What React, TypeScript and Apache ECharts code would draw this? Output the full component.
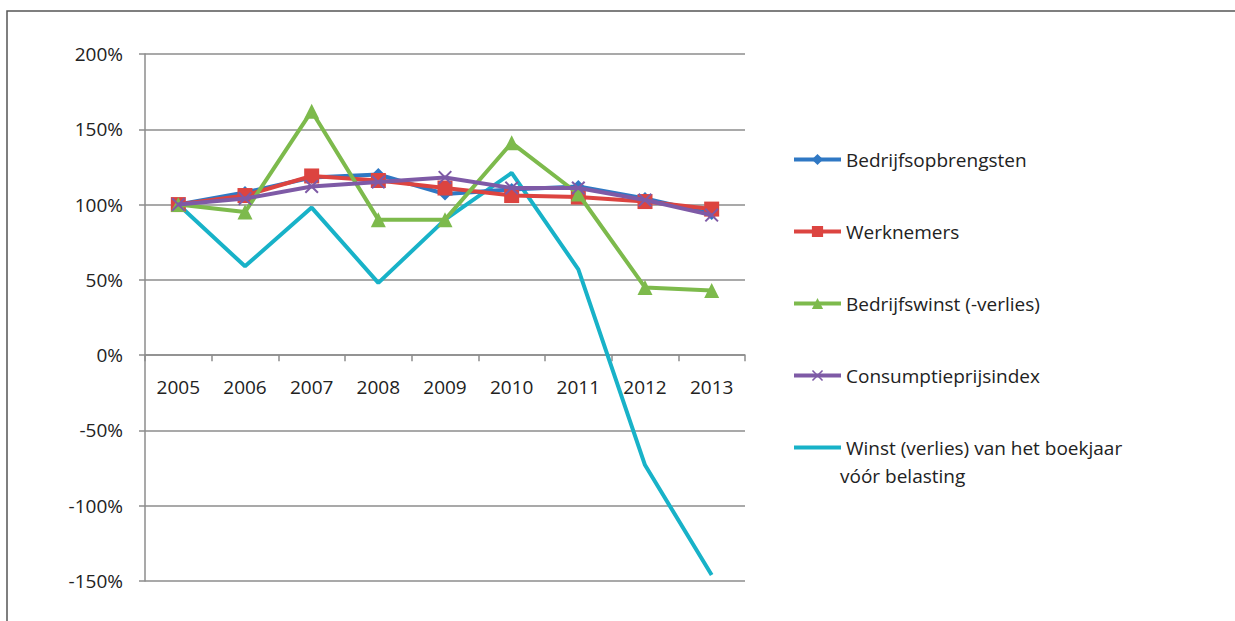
import React, { useEffect, useRef } from "react";
import * as echarts from "echarts";

const years = ["2005", "2006", "2007", "2008", "2009", "2010", "2011", "2012", "2013"];
const bedrijfsopbrengsten = [100, 108, 118, 120, 107, 110, 112, 104, 94];
const werknemers = [100, 106, 119, 116, 111, 106, 105, 102, 97];
const bedrijfswinst = [100, 95, 162, 90, 90, 141, 107, 45, 43];
const consumptieprijsindex = [100, 104, 112, 115, 118, 111, 111, 103, 93];
const winstVoorBelasting = [100, 59, 98, 48, 90, 121, 57, -73, -146];

const names = [
  "Bedrijfsopbrengsten",
  "Werknemers",
  "Bedrijfswinst (-verlies)",
  "Consumptieprijsindex",
  "Winst (verlies) van het boekjaar vóór belasting",
];
const colors = ["#2F78C4", "#DC4440", "#7DBA4C", "#7E5AA6", "#18B2C8"];
const FONT = "Open Sans";

const crossPath =
  "path://M0,1L1,0L5,4L9,0L10,1L6,5L10,9L9,10L5,6L1,10L0,9L4,5Z";

export default function App() {
  const ref = useRef<HTMLDivElement>(null);
  useEffect(() => {
    if (!ref.current) return;
    const chart = echarts.init(ref.current, null, { renderer: "svg" });
    const values = [bedrijfsopbrengsten, werknemers, bedrijfswinst, consumptieprijsindex, winstVoorBelasting];
    const symbols = ["diamond", "rect", "triangle", crossPath, "circle"];
    const sizes = [13, 15, 15, 14, 0];
    const gridTop = 54;
    const gridBottom = 40;
    const plotH = 621 - gridTop - gridBottom;
    const yMin = -150;
    const yMax = 200;
    const zeroOffset = -plotH * (0 - yMin) / (yMax - yMin);
    chart.setOption({
      animation: false,
      backgroundColor: "#ffffff",
      color: colors,
      textStyle: { fontFamily: FONT },
      grid: { left: 145, right: 490, top: gridTop, bottom: gridBottom, containLabel: false },
      legend: {
        orient: "vertical",
        left: 787,
        top: 145,
        itemWidth: 47,
        itemHeight: 14,
        itemGap: 53,
        lineStyle: { width: 4 },
        textStyle: { fontFamily: FONT, fontSize: 19, color: "#222222" },
        formatter: (n: string) =>
          n === names[4] ? "Winst (verlies) van het boekjaar" : n,
        data: names.map((n, i) =>
          i === 4 ? { name: n, itemStyle: { opacity: 0 } } : { name: n }
        ),
      },
      graphic: [
        {
          type: "polyline",
          silent: true,
          shape: { points: [[7, 640], [7, 11], [1240, 11]] },
          style: { stroke: "#555555", lineWidth: 1.5, fill: "none" },
        },
        {
          type: "text",
          left: 840,
          top: 466,
          style: { text: "vóór belasting", fontFamily: FONT, fontSize: 19, fill: "#222222" },
        },
      ],
      xAxis: {
        type: "category",
        data: years,
        boundaryGap: true,
        offset: zeroOffset,
        axisLine: { onZero: false, lineStyle: { color: "#8C8C8C", width: 1.5 } },
        axisTick: { show: true, length: 6, interval: 0, lineStyle: { color: "#8C8C8C", width: 1.5 } },
        axisLabel: { color: "#222222", fontSize: 19, fontFamily: FONT, margin: 22 },
        splitLine: { show: false },
      },
      yAxis: {
        type: "value",
        min: yMin,
        max: yMax,
        interval: 50,
        axisLine: { show: true, lineStyle: { color: "#8C8C8C", width: 1.5 } },
        axisTick: { show: true, length: 6, lineStyle: { color: "#8C8C8C", width: 1.5 } },
        axisLabel: { color: "#222222", fontSize: 19, fontFamily: FONT, margin: 22, formatter: "{value}%" },
        splitLine: { show: true, lineStyle: { color: "#8C8C8C", width: 1.5 } },
      },
      series: names.map((n, i) => ({
        name: n,
        type: "line",
        data: values[i],
        symbol: symbols[i],
        symbolSize: sizes[i],
        showSymbol: i !== 4,
        lineStyle: { width: 4, color: colors[i] },
        itemStyle: { color: colors[i] },
        z: i === 4 ? 1 : 2 + i,
      })),
    });
    return () => chart.dispose();
  }, []);
  return (
    <div
      ref={ref}
      style={{ position: "fixed", left: 0, top: 0, width: 1235, height: 621, background: "#fff" }}
    />
  );
}
